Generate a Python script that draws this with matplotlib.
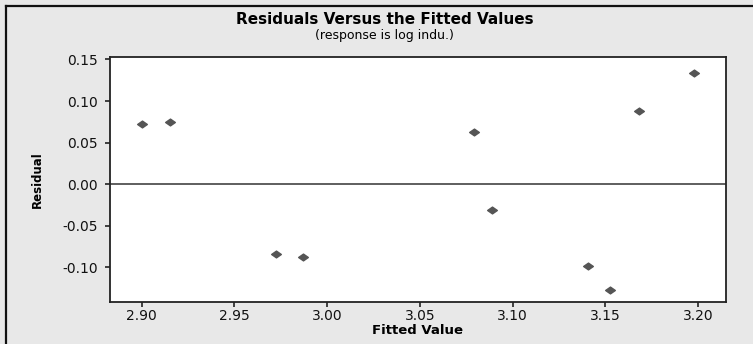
import numpy as np
import matplotlib
matplotlib.use("Agg")
import matplotlib.pyplot as plt
from matplotlib.lines import Line2D
from matplotlib.path import Path

# fitted values and residuals
fitted = [2.900, 2.9154, 2.9725, 2.9869, 3.0790, 3.0889, 3.1406, 3.1525, 3.1678, 3.1977]
resid = [0.0727, 0.0742, -0.0848, -0.0884, 0.0630, -0.0318, -0.0984, -0.1270, 0.0875, 0.1337]
xticks = [2.90, 2.95, 3.00, 3.05, 3.10, 3.15, 3.20]
yticks = [-0.10, -0.05, 0.00, 0.05, 0.10, 0.15]

bg = "#e8e8e8"
plt.rcParams["font.family"] = ["DejaVu Sans"]

fig = plt.figure(figsize=(7.53, 3.44), dpi=100, facecolor=bg)
ax = fig.add_axes([0.1461, 0.1221, 0.8187, 0.7122])
ax.set_facecolor("white")

# flat diamond marker like the original
diamond = Path([(-1, 0), (0, 0.7), (1, 0), (0, -0.7), (-1, 0)],
               [Path.MOVETO, Path.LINETO, Path.LINETO, Path.LINETO, Path.CLOSEPOLY])
ax.plot(fitted, resid, linestyle="none", marker=diamond, ms=7, color="#555555")
ax.axhline(0, color="#333333", lw=1.1)

ax.set_xlim(2.883, 3.2152)
ax.set_ylim(-0.142, 0.153)
ax.set_xticks(xticks)
ax.set_xticklabels(["%.2f" % v for v in xticks])
ax.set_yticks(yticks)
ax.set_yticklabels(["%.2f" % v for v in yticks])
ax.tick_params(axis="x", direction="out", length=3.6, width=1.1, pad=1.5,
               labelsize=10, colors="#111111")
ax.tick_params(axis="y", direction="out", length=3.6, width=1.1, pad=5,
               labelsize=10, colors="#111111")
for s in ax.spines.values():
    s.set_color("#222222")
    s.set_linewidth(1.3)

fig.text(0.049, ax.get_position().y0 + ax.get_position().height / 2, "Residual",
         rotation=90, ha="center", va="center", fontsize=8.5, fontweight="bold")
fig.text(0.554, 1 - 330 / 344, "Fitted Value", ha="center", va="center",
         fontsize=9.5, fontweight="bold")
fig.text(0.511, 1 - 20 / 344, "Residuals Versus the Fitted Values", ha="center",
         va="center", fontsize=11, fontweight="bold")
fig.text(0.511, 1 - 36 / 344, "(response is log indu.)", ha="center",
         va="center", fontsize=9)

# screenshot frame on the left and top
fig.add_artist(Line2D([6.5 / 753, 6.5 / 753], [0, 1 - 6 / 344], color="#111111",
                      lw=1.6, transform=fig.transFigure))
fig.add_artist(Line2D([6.5 / 753, 1], [1 - 6 / 344, 1 - 6 / 344], color="#111111",
                      lw=1.6, transform=fig.transFigure))

fig.savefig("out.png", dpi=100, facecolor=bg)
